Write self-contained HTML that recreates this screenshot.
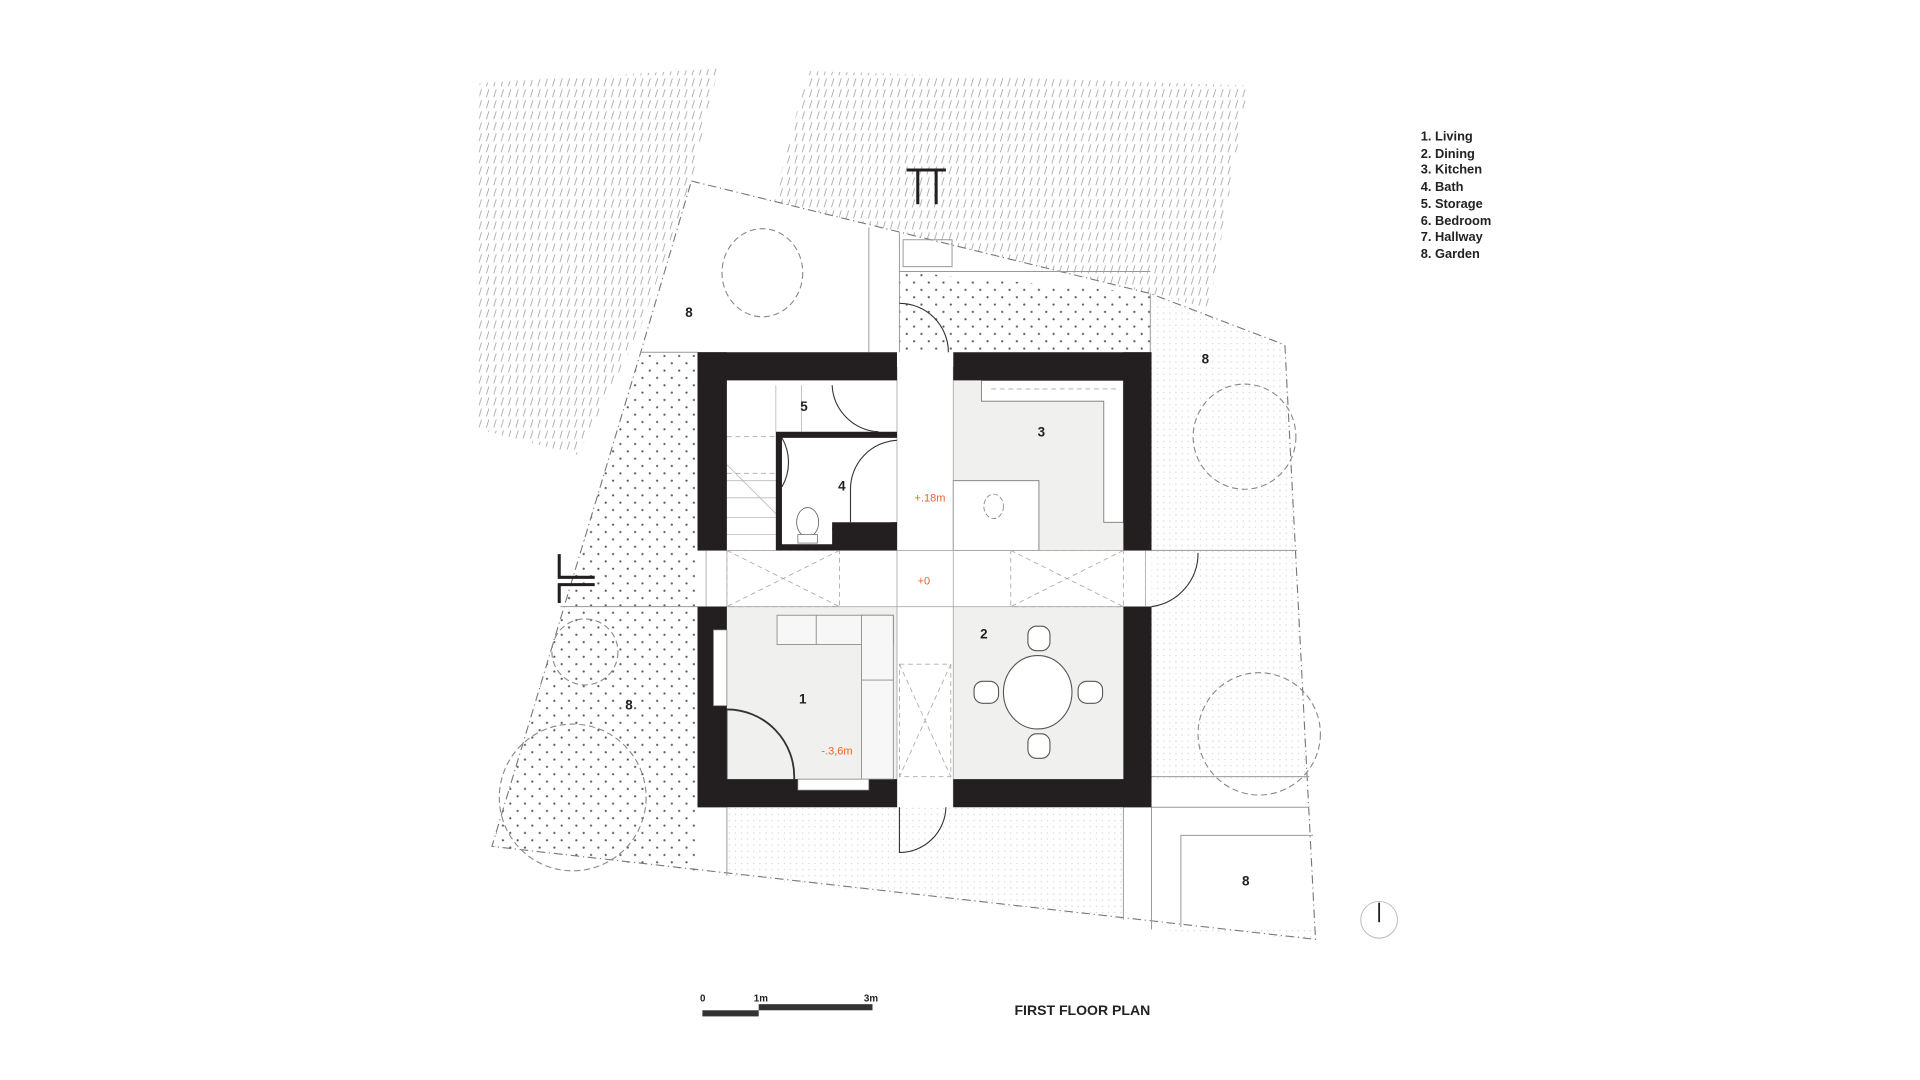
<!DOCTYPE html>
<html><head><meta charset="utf-8"><style>html,body{margin:0;padding:0;background:#fff}svg{display:block}</style></head>
<body>
<svg width="1920" height="1080" viewBox="0 0 1569 883" preserveAspectRatio="none" xmlns="http://www.w3.org/2000/svg" font-family="Liberation Sans, sans-serif">
<defs>
<pattern id="hatch" width="6" height="9" patternUnits="userSpaceOnUse">
<line x1="1.5" y1="7.5" x2="3.5" y2="1" stroke="#999" stroke-width="0.6"/>
</pattern>
<pattern id="dots" width="12" height="12" patternUnits="userSpaceOnUse">
<circle cx="3" cy="3" r="0.9" fill="#555"/><circle cx="9" cy="9" r="0.9" fill="#555"/>
</pattern>
<pattern id="fine" width="5" height="5" patternUnits="userSpaceOnUse">
<circle cx="1" cy="1" r="0.5" fill="#ccc"/>
</pattern>
</defs>
<rect width="1569" height="883" fill="#fff"/>
<polygon points="392,68 587,56 565,148 522,272 472,372 388,350" fill="url(#hatch)"/>
<polygon points="660,58 1020,70 988,252 940,240 565,148 632,165" fill="url(#hatch)"/>
<polygon points="565,148 710,186 710,288 523,288 523,270" fill="#fff"/>
<polygon points="710,186 940,240 940,288 710,288" fill="#fff"/>
<polygon points="735,222 940,240 940,288 735,288" fill="url(#dots)"/>
<polygon points="523,290 570,290 570,712 402,692" fill="url(#dots)"/>
<polygon points="941,242 1050,282 1075,768 941,760" fill="url(#fine)"/>
<polygon points="594,660 918,660 918,752 594,716" fill="url(#fine)"/>
<rect x="941" y="640" width="132" height="120" fill="#fff"/>
<polyline points="565,148 940,240 1050,282 1075,768 402,692 523,290 565,148" fill="none" stroke="#777" stroke-width="0.9" stroke-dasharray="7,3,1,3"/>
<g stroke="#999" stroke-width="0.8" fill="none">
<line x1="710" y1="186" x2="710" y2="288"/>
<line x1="735" y1="190" x2="735" y2="288"/>
<line x1="735" y1="222" x2="940" y2="222"/>
<line x1="940" y1="240" x2="940" y2="288"/>
<line x1="523" y1="288" x2="570" y2="288"/>
<line x1="458" y1="496" x2="570" y2="496"/>
<line x1="941" y1="450" x2="1060" y2="450"/>
<line x1="941" y1="635" x2="1070" y2="635"/>
<line x1="941" y1="660" x2="1070" y2="660"/>
<line x1="594" y1="660" x2="594" y2="716"/>
<line x1="918" y1="660" x2="918" y2="752"/>
<line x1="941" y1="660" x2="941" y2="760"/>
<polyline points="965,758 965,683 1073,683"/>
<polygon points="738,196 778,196 778,218 738,218"/>
</g>
<g fill="none" stroke="#888" stroke-width="0.9" stroke-dasharray="5,3">
<ellipse cx="623" cy="223" rx="33" ry="36"/>
<ellipse cx="1017" cy="357" rx="42" ry="43"/>
<ellipse cx="478" cy="533" rx="27" ry="27"/>
<ellipse cx="468" cy="652" rx="60" ry="60"/>
<ellipse cx="1029" cy="600" rx="50" ry="50"/>
</g>
<rect x="779" y="311" width="139" height="139" fill="#f0f0ee"/>
<rect x="779" y="393" width="70" height="57" fill="#fff" stroke="#777" stroke-width="0.7"/>
<polygon points="802,311 918,311 918,427 902,427 902,328 802,328" fill="#fff" stroke="#777" stroke-width="0.7"/>
<rect x="594" y="496" width="139" height="141" fill="#f0f0ee"/>
<rect x="779" y="496" width="139" height="141" fill="#f0f0ee"/>
<g stroke="#aaa" stroke-width="0.7" fill="none">
<line x1="570" y1="450" x2="941" y2="450"/><line x1="570" y1="496" x2="941" y2="496"/>
<line x1="594" y1="450" x2="594" y2="496"/>
<line x1="577" y1="450" x2="577" y2="496"/>
<line x1="936" y1="450" x2="936" y2="496"/>
<line x1="733" y1="300" x2="733" y2="660"/><line x1="779" y1="300" x2="779" y2="660"/>
</g>
<g stroke="#aaa" stroke-width="0.7" fill="none" stroke-dasharray="4,3">
<rect x="594" y="450" width="92" height="46"/><line x1="594" y1="450" x2="686" y2="496"/><line x1="686" y1="450" x2="594" y2="496"/>
<rect x="826" y="450" width="92" height="46"/><line x1="826" y1="450" x2="918" y2="496"/><line x1="918" y1="450" x2="826" y2="496"/>
<rect x="735" y="543" width="42" height="92"/><line x1="735" y1="543" x2="777" y2="635"/><line x1="777" y1="543" x2="735" y2="635"/>
<line x1="594" y1="357" x2="634" y2="357"/><line x1="594" y1="387" x2="634" y2="387"/>
<line x1="810" y1="318" x2="912" y2="318"/>
</g>
<g stroke="#bbb" stroke-width="0.7" fill="none">
<line x1="594" y1="393" x2="634" y2="393"/><line x1="594" y1="407" x2="634" y2="407"/><line x1="594" y1="423" x2="634" y2="423"/><line x1="594" y1="437" x2="634" y2="437"/>
<line x1="594" y1="380" x2="634" y2="420"/>
<line x1="634" y1="315" x2="634" y2="353"/><line x1="655" y1="315" x2="655" y2="353"/>
</g>
<g fill="#231f20">
<rect x="570" y="288" width="163" height="23"/>
<rect x="779" y="288" width="162" height="23"/>
<rect x="570" y="288" width="24" height="162"/>
<rect x="918" y="288" width="23" height="162"/>
<rect x="570" y="496" width="24" height="164"/>
<rect x="918" y="496" width="23" height="164"/>
<rect x="570" y="637" width="163" height="23"/>
<rect x="779" y="637" width="162" height="23"/>
<path d="M634,353 H733 V450 H634 Z M639,358 V445 H680 V432 H728 V427 H733 V358 Z" fill-rule="evenodd"/>
<rect x="680" y="427" width="53" height="6"/>
</g>
<rect x="583" y="515" width="11" height="62" fill="#fff" stroke="#777" stroke-width="0.6"/>
<rect x="652" y="637" width="58" height="9" fill="#fff" stroke="#777" stroke-width="0.6"/>
<g fill="#f7f7f7" stroke="#888" stroke-width="0.7">
<rect x="635" y="503" width="95" height="24"/>
<rect x="704" y="503" width="26" height="134"/>
<line x1="667" y1="503" x2="667" y2="527"/><line x1="704" y1="556" x2="730" y2="556"/>
</g>
<g fill="none" stroke="#333" stroke-width="0.9">
<path d="M594,580 A55,55 0 0 1 649,637" stroke-width="1.5"/>
<line x1="594" y1="580" x2="594" y2="637"/>
<path d="M733,360 A40,40 0 0 0 695,400 L695,427"/>
<path d="M639,358 A40,40 0 0 1 639,398"/>
<path d="M735,248 A40,40 0 0 1 775,288"/>
<path d="M979,452 A44,44 0 0 1 941,496"/>
<path d="M735,660 L735,697 A38,38 0 0 0 773,660"/>
<path d="M718,353 A40,40 0 0 1 680,315"/>
</g>
<ellipse cx="660" cy="427" rx="9" ry="12" fill="#fff" stroke="#666" stroke-width="0.7"/>
<rect x="652" y="437" width="16" height="7" fill="#fff" stroke="#666" stroke-width="0.6"/>
<ellipse cx="812" cy="414" rx="8" ry="10" fill="none" stroke="#888" stroke-width="0.7" stroke-dasharray="4,2"/>
<g fill="#fff" stroke="#555" stroke-width="0.9">
<ellipse cx="848" cy="566" rx="28" ry="30"/>
<rect x="840" y="512" width="18" height="20" rx="7"/>
<rect x="840" y="600" width="18" height="20" rx="7"/>
<rect x="796" y="557" width="20" height="18" rx="7"/>
<rect x="881" y="557" width="20" height="18" rx="7"/>
</g>
<g stroke="#231f20" stroke-width="2.5" fill="none">
<path d="M741,139 H773 M750,139 V167 M765,139 V167"/>
<path d="M457,453 V472 H486 M457,493 V478 H486"/>
</g>
<g font-size="11" font-weight="bold" fill="#222" text-anchor="middle">
<text x="563" y="259">8</text><text x="985" y="297">8</text><text x="657" y="336">5</text>
<text x="851" y="357">3</text><text x="688" y="401">4</text><text x="804" y="522">2</text>
<text x="656" y="575">1</text><text x="514" y="580">8</text><text x="1018" y="724">8</text>
</g>
<g font-size="9" fill="#e8632a" text-anchor="middle">
<text x="760" y="410">+.18m</text><text x="755" y="478">+0</text><text x="684" y="617">-.3,6m</text>
</g>
<g font-size="10.5" font-weight="bold" fill="#222">
<text x="1161" y="115">1. Living</text><text x="1161" y="129">2. Dining</text><text x="1161" y="142">3. Kitchen</text><text x="1161" y="156">4. Bath</text>
<text x="1161" y="170">5. Storage</text><text x="1161" y="184">6. Bedroom</text><text x="1161" y="197">7. Hallway</text><text x="1161" y="211">8. Garden</text>
</g>
<ellipse cx="1127" cy="752" rx="15" ry="15" fill="none" stroke="#bbb" stroke-width="0.8"/>
<line x1="1127" y1="738" x2="1127" y2="754" stroke="#222" stroke-width="1.5"/>
<g font-size="8" font-weight="bold" fill="#222">
<text x="572" y="819">0</text><text x="616" y="819">1m</text><text x="706" y="819">3m</text>
</g>
<rect x="574" y="826" width="46" height="5" fill="#333"/>
<rect x="620" y="821" width="93" height="5" fill="#333"/>
<text x="829" y="830" font-size="11.5" font-weight="bold" fill="#222">FIRST FLOOR PLAN</text>
</svg>
</body></html>
